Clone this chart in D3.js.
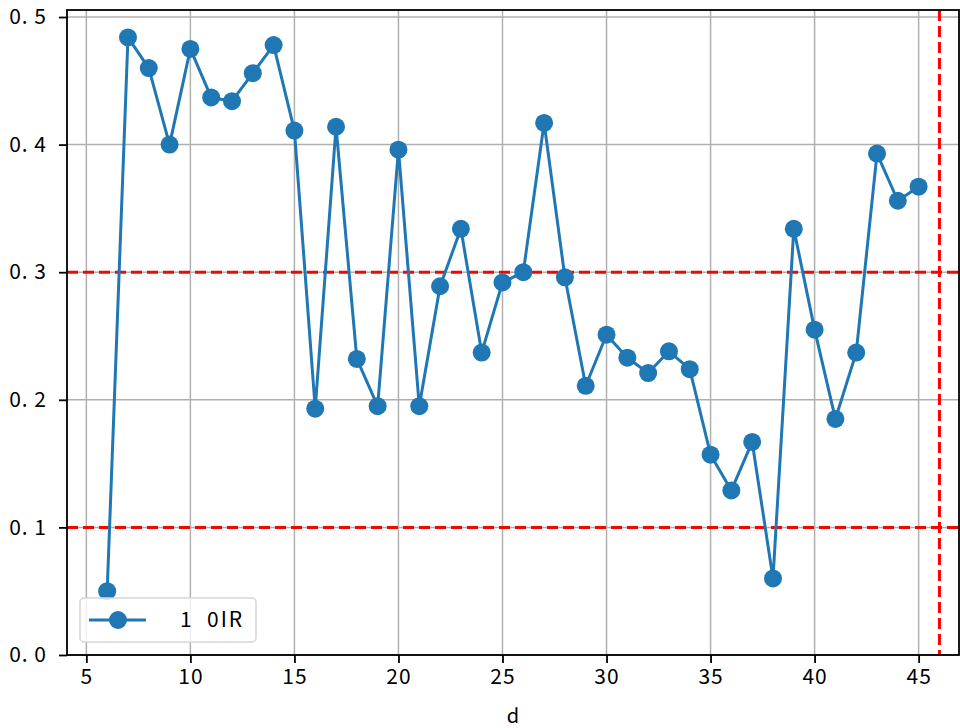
<!DOCTYPE html>
<html>
<head>
<meta charset="utf-8">
<script src="https://cdn.jsdelivr.net/npm/d3@7"></script>
<style>
  body { margin: 0; background: #fff; }
  text { font-family: "Noto Sans CJK JP", "DejaVu Sans", sans-serif; }
</style>
</head>
<body>
<div id="chart"></div>
<script>
// data
var days = [6, 7, 8, 9, 10, 11, 12, 13, 14, 15, 16, 17, 18, 19, 20, 21, 22, 23, 24, 25,
            26, 27, 28, 29, 30, 31, 32, 33, 34, 35, 36, 37, 38, 39, 40, 41, 42, 43, 44, 45];
var oir = [0.050, 0.484, 0.460, 0.400, 0.475, 0.437, 0.434, 0.456, 0.478, 0.411,
           0.193, 0.414, 0.232, 0.195, 0.396, 0.195, 0.289, 0.334, 0.237, 0.292,
           0.300, 0.417, 0.296, 0.211, 0.251, 0.233, 0.221, 0.238, 0.224, 0.157,
           0.129, 0.167, 0.060, 0.334, 0.255, 0.185, 0.237, 0.393, 0.356, 0.367];
var hLines = [0.3, 0.1];
var vLine = 46;
var xTicks = [5, 10, 15, 20, 25, 30, 35, 40, 45];
var yTicks = [0, 0.1, 0.2, 0.3, 0.4, 0.5];
var seriesName = "1\u00a0\u00a00IR";

var w = 960, h = 728;
var margin = {top: 10, right: 1, bottom: 73, left: 67};
var iw = w - margin.left - margin.right;
var ih = h - margin.top - margin.bottom;

var svg = d3.select("#chart").append("svg")
    .attr("width", w)
    .attr("height", h);

var g = svg.append("g")
    .attr("transform", "translate(" + margin.left + "," + margin.top + ")");

var x = d3.scaleLinear().domain([4.07, 46.94]).range([0, iw]);
var y = d3.scaleLinear().domain([0, 0.5055]).range([ih, 0]);

// grid
g.append("g").selectAll("line")
    .data(xTicks).enter().append("line")
    .attr("x1", function (d) { return x(d); })
    .attr("x2", function (d) { return x(d); })
    .attr("y1", 0).attr("y2", ih)
    .attr("stroke", "#b0b0b0").attr("stroke-width", 1.5);
g.append("g").selectAll("line")
    .data(yTicks).enter().append("line")
    .attr("y1", function (d) { return y(d); })
    .attr("y2", function (d) { return y(d); })
    .attr("x1", 0).attr("x2", iw)
    .attr("stroke", "#b0b0b0").attr("stroke-width", 1.5);

// reference lines
g.selectAll(".hl")
    .data(hLines).enter().append("line")
    .attr("class", "hl")
    .attr("x1", 0).attr("x2", iw)
    .attr("y1", function (d) { return y(d); })
    .attr("y2", function (d) { return y(d); })
    .attr("stroke", "#ff0000").attr("stroke-width", 3)
    .attr("stroke-dasharray", "11,5");
g.append("line")
    .attr("x1", x(vLine)).attr("x2", x(vLine))
    .attr("y1", 0).attr("y2", ih)
    .attr("stroke", "#ff0000").attr("stroke-width", 3)
    .attr("stroke-dasharray", "11,5");

// series
var pts = days.map(function (d, i) { return [d, oir[i]]; });
var line = d3.line()
    .x(function (d) { return x(d[0]); })
    .y(function (d) { return y(d[1]); });

g.append("path")
    .datum(pts)
    .attr("d", line)
    .attr("fill", "none")
    .attr("stroke", "#1f77b4")
    .attr("stroke-width", 3)
    .attr("stroke-linejoin", "round");

g.selectAll("circle")
    .data(pts).enter().append("circle")
    .attr("cx", function (d) { return x(d[0]); })
    .attr("cy", function (d) { return y(d[1]); })
    .attr("r", 9)
    .attr("fill", "#1f77b4");

// axes
var fmt = function (d) { return d.toFixed(1).replace(".", ".\u00a0"); };
var xAxis = g.append("g")
    .attr("transform", "translate(0," + ih + ")")
    .call(d3.axisBottom(x).tickValues(xTicks).tickSize(8).tickPadding(6));
var yAxis = g.append("g")
    .call(d3.axisLeft(y).tickValues(yTicks).tickFormat(fmt).tickSize(8).tickPadding(12));

[xAxis, yAxis].forEach(function (a) {
    a.select(".domain").remove();
    a.selectAll(".tick line").attr("stroke", "#000").attr("stroke-width", 1.8);
    a.selectAll("text").attr("font-size", 21).attr("fill", "#000")
        .attr("letter-spacing", 1);
});

// frame
g.append("rect")
    .attr("x", 0).attr("y", 0)
    .attr("width", iw).attr("height", ih)
    .attr("fill", "none")
    .attr("stroke", "#000").attr("stroke-width", 1.8);

// x label
svg.append("text")
    .attr("x", margin.left + iw / 2)
    .attr("y", 723)
    .attr("text-anchor", "middle")
    .attr("font-size", 20)
    .text("d");

// legend
var lg = g.append("g").attr("transform", "translate(13," + (ih - 57) + ")");
lg.append("rect")
    .attr("width", 176).attr("height", 44)
    .attr("rx", 4)
    .attr("fill", "#fff").attr("fill-opacity", 0.8)
    .attr("stroke", "#d6d6d6").attr("stroke-width", 1.5);
lg.append("line")
    .attr("x1", 9).attr("x2", 66)
    .attr("y1", 22).attr("y2", 22)
    .attr("stroke", "#1f77b4").attr("stroke-width", 3);
lg.append("circle")
    .attr("cx", 38).attr("cy", 22).attr("r", 9)
    .attr("fill", "#1f77b4");
lg.append("text")
    .attr("x", 100).attr("y", 29)
    .attr("font-size", 21)
    .attr("letter-spacing", 2)
    .text(seriesName);
</script>
</body>
</html>
